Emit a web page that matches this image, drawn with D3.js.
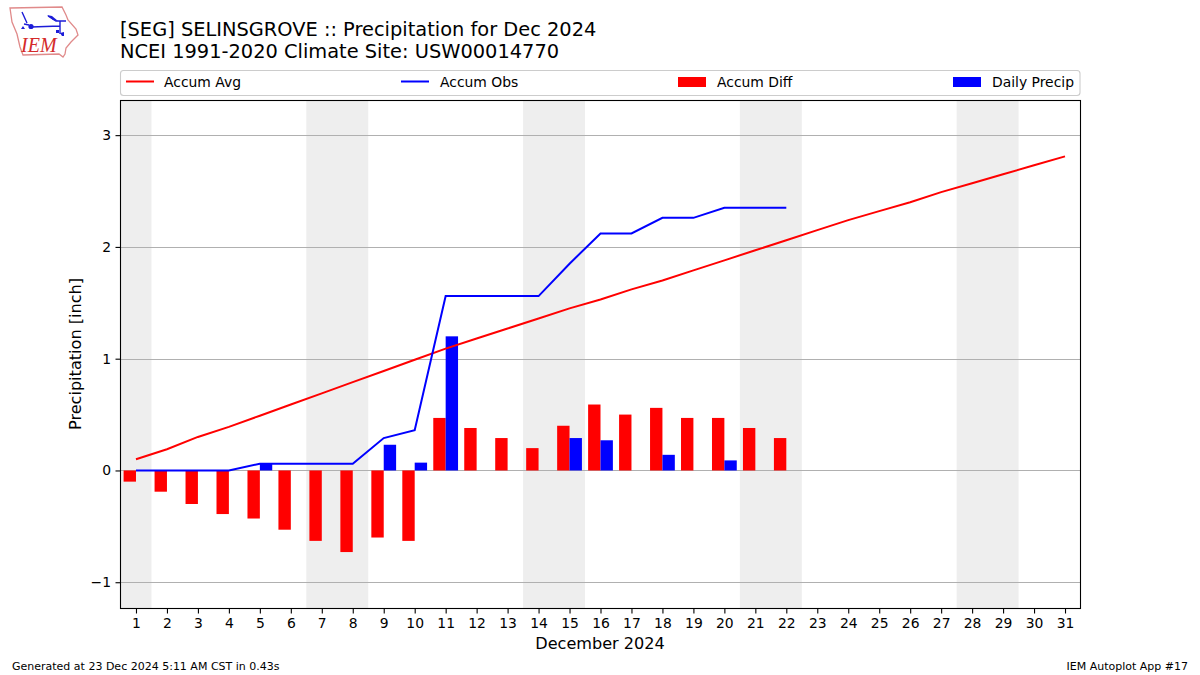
<!DOCTYPE html>
<html><head><meta charset="utf-8">
<script src="https://cdn.jsdelivr.net/npm/d3@7"></script>
<style>html,body{margin:0;padding:0;background:#fff}svg{display:block}text{font-family:"DejaVu Sans",sans-serif;fill:#000}</style>
</head><body><svg id="c" width="1200" height="675"></svg>
<script>
const days = d3.range(1, 32);
const accumAvg = [0.10,0.19,0.30,0.39,0.49,0.59,0.69,0.79,0.89,0.99,1.09,1.18,1.27,1.36,1.45,1.53,1.62,1.70,1.79,1.88,1.97,2.06,2.15,2.24,2.32,2.40,2.49,2.57,2.65,2.73,2.81];
const accumObs = [0,0,0,0,0.06,0.06,0.06,0.06,0.29,0.36,1.56,1.56,1.56,1.56,1.85,2.12,2.12,2.26,2.26,2.35,2.35,2.35];
const accumDiff = [-0.10,-0.19,-0.30,-0.39,-0.43,-0.53,-0.63,-0.73,-0.60,-0.63,0.47,0.38,0.29,0.20,0.40,0.59,0.50,0.56,0.47,0.47,0.38,0.29];
const dailyPrecip = [0,0,0,0,0.06,0,0,0,0.23,0.07,1.20,0,0,0,0.29,0.27,0,0.14,0,0.09,0,0];
const weekendSpans = [[0.5,1.5],[6.5,8.5],[13.5,15.5],[20.5,22.5],[27.5,29.5]];
const yTicks = [-1,0,1,2,3];
const titleLines = ["[SEG] SELINSGROVE :: Precipitation for Dec 2024","NCEI 1991-2020 Climate Site: USW00014770"];
const legendLabels = ["Accum Avg","Accum Obs","Accum Diff","Daily Precip"];

const m = {l:120.5,r:1080.5,t:100.5,b:608.5};
const svg = d3.select("#c");
const x = d3.scaleLinear().domain([0.5,31.5]).range([m.l,m.r]);
const y = d3.scaleLinear().domain([-1.235,3.31]).range([m.b,m.t]);
const RED="#ff0000", BLUE="#0000ff", BW=0.4;

svg.append("g").selectAll("rect").data(weekendSpans).join("rect")
  .attr("x",d=>x(d[0])).attr("width",d=>x(d[1])-x(d[0])).attr("y",m.t).attr("height",m.b-m.t).attr("fill","#eeeeee");
svg.append("g").selectAll("line").data(yTicks).join("line")
  .attr("x1",m.l).attr("x2",m.r).attr("y1",d=>Math.round(y(d))+.5).attr("y2",d=>Math.round(y(d))+.5)
  .attr("stroke","#b0b0b0").attr("stroke-width",1.1);

svg.append("g").selectAll("rect").data(accumDiff).join("rect")
  .attr("x",(d,i)=>x(days[i]-BW)).attr("width",x(BW)-x(0))
  .attr("y",d=>y(Math.max(d,0))).attr("height",d=>Math.abs(y(d)-y(0))).attr("fill",RED);
svg.append("g").selectAll("rect").data(dailyPrecip).join("rect")
  .attr("x",(d,i)=>x(days[i])).attr("width",x(BW)-x(0))
  .attr("y",d=>y(d)).attr("height",d=>y(0)-y(d)).attr("fill",BLUE);

const line = d3.line().x((d,i)=>x(days[i])).y(d=>y(d));
svg.append("path").attr("d",line(accumAvg)).attr("fill","none").attr("stroke",RED).attr("stroke-width",2);
svg.append("path").attr("d",line(accumObs)).attr("fill","none").attr("stroke",BLUE).attr("stroke-width",2);

const xAxis = d3.axisBottom(x).tickValues(days).tickFormat(d3.format("d")).tickSize(5).tickPadding(4.5);
const gx = svg.append("g").attr("transform",`translate(0,${m.b})`).call(xAxis);
const yAxis = d3.axisLeft(y).tickValues(yTicks).tickFormat(d=>d<0?"\u2212"+(-d):d).tickSize(5).tickPadding(4.5);
const gy = svg.append("g").attr("transform",`translate(${m.l},0)`).call(yAxis);
[gx,gy].forEach(g=>{g.select(".domain").remove();
  g.selectAll("text").style("font-size","13.9px").style("font-family",'"DejaVu Sans"');
  g.selectAll("line").attr("stroke","#000").attr("stroke-width",1.1);});
svg.append("rect").attr("x",m.l).attr("y",m.t).attr("width",m.r-m.l).attr("height",m.b-m.t)
  .attr("fill","none").attr("stroke","#000").attr("stroke-width",1.1);

svg.append("text").attr("x",600).attr("y",649).attr("text-anchor","middle").style("font-size","16.1px").text("December 2024");
svg.append("text").attr("transform","translate(80.5,354) rotate(-90)").attr("text-anchor","middle").style("font-size","16.1px").text("Precipitation [inch]");
titleLines.forEach((t,i)=>svg.append("text").attr("x",120).attr("y",36+i*22).style("font-size","19.4px").text(t));

svg.append("text").attr("x",12).attr("y",670).style("font-size","11px").text("Generated at 23 Dec 2024 5:11 AM CST in 0.43s");
svg.append("text").attr("x",1188).attr("y",670).attr("text-anchor","end").style("font-size","11px").text("IEM Autoplot App #17");

// legend
const lg = svg.append("g");
lg.append("rect").attr("x",120.5).attr("y",70.5).attr("width",959.5).attr("height",25).attr("rx",3)
  .attr("fill","#fff").attr("stroke","#cccccc").attr("stroke-width",1.1);
const keyX=[126,401,678,953], txtX=[164,440,717,992];
legendLabels.forEach((t,i)=>{
  if(i<2) lg.append("line").attr("x1",keyX[i]).attr("x2",keyX[i]+28).attr("y1",81.5).attr("y2",81.5).attr("stroke",i?BLUE:RED).attr("stroke-width",2);
  else lg.append("rect").attr("x",keyX[i]).attr("y",77).attr("width",28).attr("height",10).attr("fill",i==2?RED:BLUE);
  lg.append("text").attr("x",txtX[i]).attr("y",86.5).style("font-size","13.9px").text(t);
});

// IEM logo
const logo = svg.append("g");
logo.append("path").attr("d","M10 8 L62 7 L66 15 L68 20 L76 29 L78 35 L71 42 L66 48 L65 54 L63 57 L59 54 L23 55 L20 47 L17 34 L12 22 Z")
  .attr("fill","none").attr("stroke","#e08a8a").attr("stroke-width",1.3);
logo.append("path").attr("d","M31 27 L60 26 M60 21 L60 34 M48 16 L56 21 L66 21 M22 12 L27 23 M24 24 L29 25")
  .attr("fill","none").attr("stroke","#1c1cd8").attr("stroke-width",1.4);
logo.append("path").attr("d","M47 15 L52 16 L58 21 L53 20 Z").attr("fill","#1c1cd8");
logo.append("circle").attr("cx",31).attr("cy",26.5).attr("r",2.6).attr("fill","#1c1cd8");
logo.append("path").attr("d","M23 26 l2 3 h-4 Z M56 30 l3 0 v3 h-3 Z M60 33 l4 -1 v4 h-2 Z").attr("fill","#1c1cd8");
logo.append("text").attr("x",21).attr("y",52).style("font-family",'"Liberation Serif"').style("font-style","italic").style("font-size","20px").style("fill","#d42a2a").text("IEM");
</script></body></html>
